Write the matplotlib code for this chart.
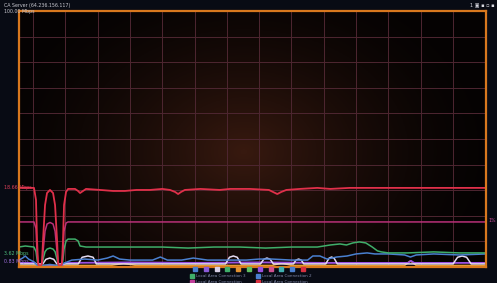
import numpy as np
import matplotlib
matplotlib.use('Agg')
import matplotlib.pyplot as plt
from matplotlib.patches import Rectangle

# traffic samples (seconds on x, % of 100 Mbps on y)
red_t = [-2.2, 0.15, 0.46, 0.62, 0.77, 0.93, 1.24, 1.39, 1.55, 1.86, 2.17, 2.63, 3.1, 3.41, 3.72, 3.87,
         4.02, 4.33, 4.49, 4.64, 4.8, 5.11, 5.42, 6.5, 6.97, 7.28, 7.74, 8.2, 10.4, 12.4, 14.2, 16, 18.1,
         20, 21.2, 22, 22.45, 22.9, 23.5, 25.9, 28.9, 30.5, 33.6, 36.5, 37.15, 37.8, 38.4, 39.2, 41.3,
         44, 46, 49, 52.2, 56.8, 61.5, 66.1, 70.1]
red_v = [30.9, 30.9, 26.2, 10.5, 2.0, 0.4, 0.4, 2.0, 10.5, 24.2, 28.9, 30.1, 28.9, 24.2, 10.5, 2.0,
         0.4, 0.4, 2.0, 10.5, 24.2, 29.3, 30.5, 30.5, 29.7, 28.9, 29.7, 30.5, 30.1, 29.7, 29.7, 30.1, 30.1,
         30.5, 30.1, 29.3, 28.5, 29.3, 30.1, 30.5, 30.1, 30.5, 30.5, 30.1, 29.3, 28.5, 29.3, 30.1, 30.5,
         30.9, 30.5, 30.9, 30.9, 30.9, 30.9, 30.9, 30.9]

mag_t = [-2.2, 0.15, 0.46, 0.62, 0.77, 0.93, 1.24, 1.39, 1.55, 1.86, 2.17, 2.63, 3.1, 3.41, 3.72, 3.87,
         4.02, 4.33, 4.49, 4.64, 4.8, 5.11, 5.42, 70.1]
mag_v = [17.6, 17.6, 15.0, 6.0, 1.2, 0.4, 0.4, 1.2, 6.0, 14.0, 16.8, 17.4, 16.8, 14.0, 6.0, 1.2,
         0.4, 0.4, 1.2, 6.0, 14.0, 17.2, 17.6, 17.6]

green_t = [-2.2, -1.2, 0.15, 0.46, 0.62, 0.77, 0.93, 1.24, 1.39, 1.55, 1.86, 2.17, 2.63, 3.1, 3.41, 3.72,
           3.87, 4.02, 4.33, 4.49, 4.64, 4.8, 5.11, 5.42, 6.5, 6.97, 7.28, 8.2, 12, 16, 20, 24, 28, 32,
           36, 40, 44, 46, 47.5, 48.5, 49.5, 50.5, 51.5, 52.5, 53.3, 53.9, 55, 58, 62, 66, 70.1]
green_v = [7.8, 8.2, 7.8, 6.0, 3.0, 0.8, 0.4, 0.4, 0.8, 3.0, 6.0, 7.0, 7.4, 7.0, 6.0, 3.0,
           0.8, 0.4, 0.4, 0.8, 3.0, 7.0, 10.2, 10.9, 10.9, 10.2, 8.2, 7.8, 7.8, 7.8, 7.8, 7.4, 7.8, 7.8,
           7.4, 7.8, 7.8, 8.6, 9.0, 8.6, 9.4, 9.8, 9.4, 7.8, 6.3, 5.9, 5.5, 5.5, 5.9, 5.5, 5.5]

blue_t = [-2.2, -1.6, -1.2, -0.7, 0.15, 0.6, 1.2, 2.6, 4.0, 4.8, 6.0, 8.0, 10.0, 11.5, 12.4, 13.4, 15,
          18.5, 19.7, 20.8, 23, 24.8, 27, 30, 33, 35, 37, 40, 42.5, 43.3, 44.4, 45.5, 47, 48.6, 50,
          51.7, 52.9, 55, 57.5, 58.4, 59.3, 62, 66, 70.1]
blue_v = [2.7, 3.5, 4.3, 3.1, 2.0, 0.8, 0.5, 1.0, 0.5, 1.5, 2.7, 3.1, 2.7, 3.5, 4.3, 3.1, 2.7,
          2.7, 3.9, 2.7, 2.7, 3.5, 2.7, 2.7, 2.7, 3.1, 3.1, 2.7, 2.7, 4.3, 4.3, 3.1, 3.9, 4.3, 5.1,
          5.5, 5.1, 5.1, 4.7, 3.9, 4.7, 5.1, 4.7, 5.1]

lav_t = [-2.2, 1.5, 2.0, 2.6, 3.2, 3.7, 7.0, 7.6, 8.5, 9.3, 9.8, 29.8, 30.4, 31.0, 31.6, 32.2,
         35.2, 35.7, 36.2, 36.7, 37.2, 40.3, 40.7, 41.1, 41.5, 41.9, 45.3, 45.8, 46.2, 46.6, 47.1,
         65.0, 65.7, 66.4, 67.1, 67.8, 70.1]
lav_v = [1.2, 1.2, 3.0, 3.5, 3.0, 1.2, 1.2, 3.8, 4.3, 3.8, 1.2, 1.2, 3.8, 4.3, 3.8, 1.2,
         1.2, 3.0, 3.5, 3.0, 1.2, 1.2, 2.7, 3.1, 2.7, 1.2, 1.2, 3.4, 3.9, 3.4, 1.2,
         1.2, 3.8, 4.3, 3.8, 1.2, 1.2]

purple_t = [-2.2, 0.3, 0.9, 4.4, 5.0, 15, 25, 35, 45, 55, 58, 58.5, 59, 70.1]
purple_v = [1.6, 1.6, 0.3, 0.3, 1.6, 1.8, 1.6, 1.8, 1.6, 1.6, 1.6, 2.4, 1.6, 1.6]

orange_t = [-2.2, 12, 14, 16, 37, 38.5, 40, 57.5, 58.4, 59.3, 70.1]
orange_v = [0.6, 0.6, 1.4, 0.6, 0.6, 1.6, 0.6, 0.6, 2.4, 0.6, 0.6]

legend_names = ['Local Area Connection 3', 'Local Area Connection 2',
                'Local Area Connection', 'Local Area Connection']
legend_colors = ['#3fae6a', '#4a7fd0', '#c03f9a', '#d8303f']
swatch_colors = ['#4a7fd0', '#8a5ad8', '#d8d0e8', '#3fae6a', '#e09030', '#5fc060',
                 '#9a50e0', '#d05090', '#40b0b0', '#4a7fd0', '#d8303f']

W, H = 497, 283
fig = plt.figure(figsize=(W / 100, H / 100), dpi=100)
fig.patch.set_facecolor('#080b14')

x0, x1, ytop, ybot = 19, 486, 11, 267
ax = fig.add_axes([x0 / W, 1 - ybot / H, (x1 - x0) / W, (ybot - ytop) / H])
ax.set_facecolor('#050303')
ax.set_xlim(-2.17, 70.1)
ax.set_ylim(0, 100)

# warm glow in the middle of the plot
gx, gy = np.meshgrid(np.linspace(0, 1, 240), np.linspace(0, 1, 140))
r = np.sqrt(((gx - 0.48) / 0.55) ** 2 + ((gy - 0.45) / 0.75) ** 2)
glow = np.clip(1 - r, 0, 1) ** 1.6
img = np.zeros((140, 240, 3))
img[..., 0] = 0.02 + 0.20 * glow
img[..., 1] = 0.01 + 0.09 * glow
img[..., 2] = 0.01 + 0.05 * glow
ax.imshow(img, extent=[0, 1, 0, 1], transform=ax.transAxes, aspect='auto', zorder=0, origin='lower')

ax.set_xticks(np.arange(0, 70, 5))
ax.set_yticks(np.arange(10, 100, 10))
ax.grid(True, color='#4e2631', lw=0.7, zorder=1)
ax.tick_params(length=0, labelbottom=False, labelleft=False)
for s in ax.spines.values():
    s.set_color('#d8781e')
    s.set_linewidth(1.6)
    s.set_zorder(5)

ax.plot(orange_t, orange_v, color='#e8a030', lw=1.1, zorder=3)
ax.plot(purple_t, purple_v, color='#9a50e0', lw=1.3, zorder=3)
ax.plot(lav_t, lav_v, color='#e6dcf2', lw=1.1, zorder=3)
ax.plot(blue_t, blue_v, color='#4a80d0', lw=1.1, zorder=3)
ax.plot(green_t, green_v, color='#3fae6a', lw=1.1, zorder=3)
ax.plot(mag_t, mag_v, color='#b83078', lw=1.1, zorder=3)
ax.plot(red_t, red_v, color='#e0304a', lw=1.3, zorder=4)

fs = 3.4
def px(x, y):
    return x / W, 1 - y / H

fig.text(*px(4, 5), 'CA Server (64.236.156.117)', color='#c8c8d0', fontsize=fs, va='center')
fig.text(*px(4, 11), '100.00 Mbps', color='#c8c8d0', fontsize=fs, va='center', zorder=10)
fig.text(*px(4, 188), '18.66 Mbps', color='#e0405a', fontsize=fs, va='center', zorder=10)
fig.text(*px(4, 253), '3.62 Mbps', color='#50c080', fontsize=fs, va='center', zorder=10)
fig.text(*px(4, 262), '0.83 Mbps', color='#a070e0', fontsize=fs, va='center', zorder=10)
fig.text(*px(488, 220), '1%', color='#d050a0', fontsize=fs, va='center', zorder=10)
fig.text(*px(494, 5), '1 \u25a3 \u25aa \u25ab \u25aa', color='#d8d8e0', fontsize=3.6, ha='right', va='center')

# little colour swatches row
for i, c in enumerate(swatch_colors):
    x, y = px(193 + i * 10.8, 271)
    fig.patches.append(Rectangle((x, y), 4 / W, 4 / H, color=c, transform=fig.transFigure, figure=fig))

# legend entries
for i, (name, c) in enumerate(zip(legend_names, legend_colors)):
    col, row = i % 2, i // 2
    x, y = px(190 + col * 66, 278 + row * 6)
    fig.patches.append(Rectangle((x, y), 4 / W, 4 / H, color=c, transform=fig.transFigure, figure=fig))
    fig.text(x + 6 / W, y + 2 / H, name, color='#8088a8', fontsize=3.0, va='center')

fig.savefig('out.png', dpi=100, facecolor=fig.get_facecolor())
